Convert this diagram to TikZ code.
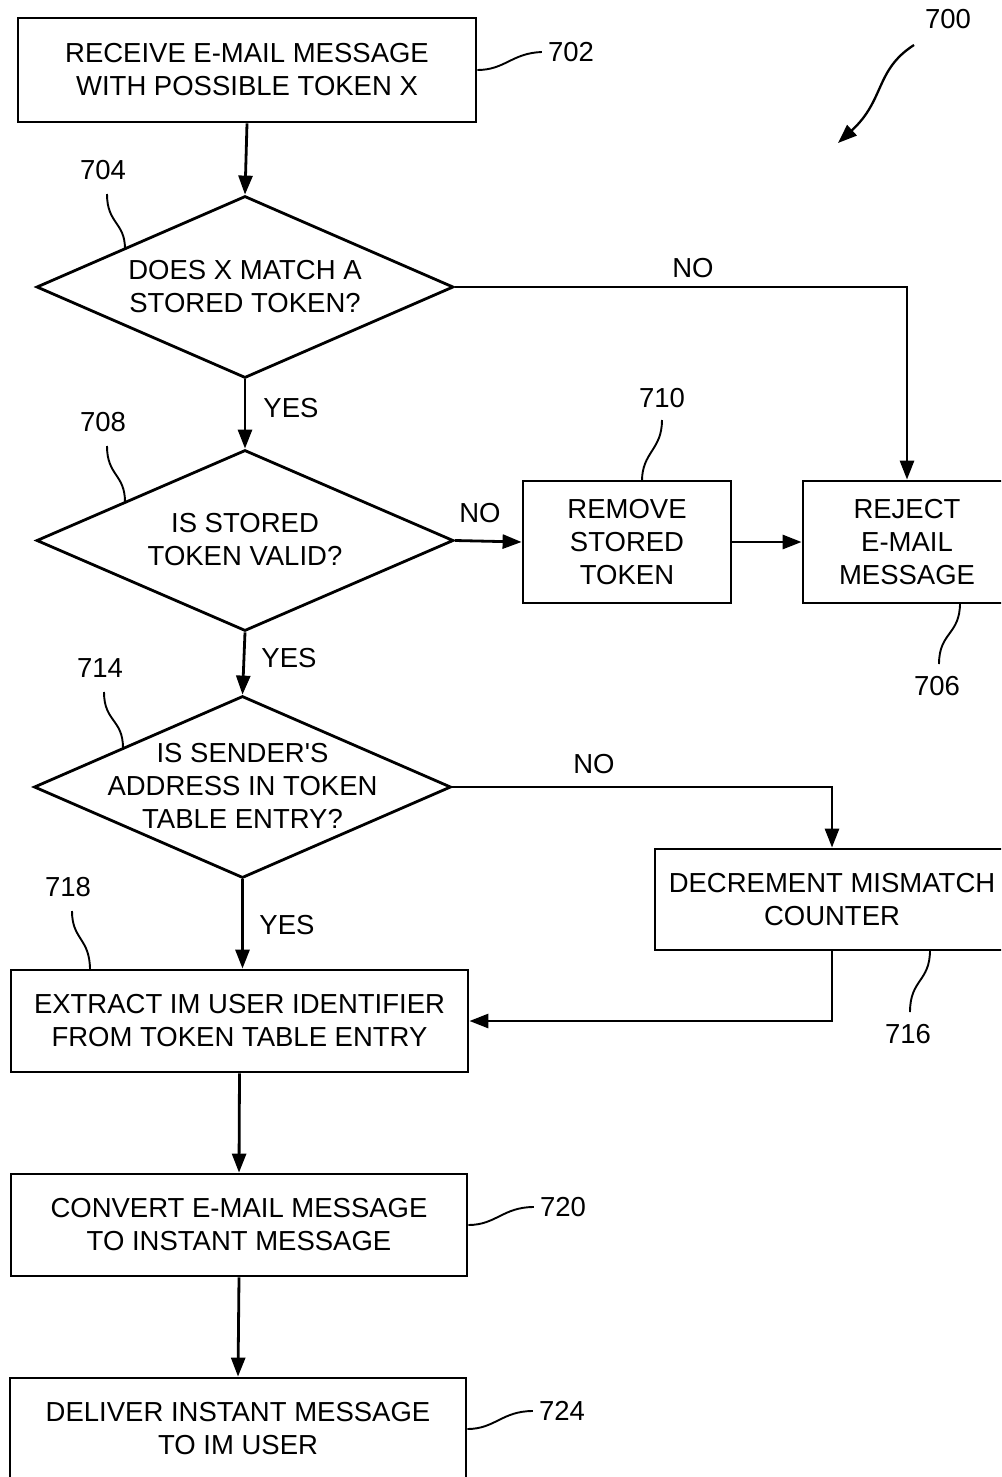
\documentclass[tikz,border=0pt]{standalone}
\usepackage{fontspec}
\setmainfont{Liberation Sans}
\usetikzlibrary{arrows.meta,shapes.geometric}
\begin{document}
\begin{tikzpicture}[x=1pt,y=-1pt,
  every node/.style={font=\fontsize{27.5}{33}\selectfont, inner sep=0pt},
  box/.style={draw, line width=2.8pt, rectangle, align=center},
  dia/.style={draw, line width=2.8pt, diamond, inner sep=0pt},
  dtext/.style={align=center},
  lbl/.style={},
  flow/.style={line width=2.8pt, -{Triangle[length=19pt,width=14pt]}},
  leader/.style={line width=1.9pt}
]
\useasboundingbox (0,0) rectangle (1001,1477);
\clip (0,0) rectangle (1001,1477);

% boxes
\node[box, minimum width=458pt, minimum height=104pt] (b702) at (247,70) {RECEIVE E-MAIL MESSAGE\\WITH POSSIBLE TOKEN X};
\node[box, minimum width=208pt, minimum height=122pt] (b710) at (627,542) {REMOVE\\STORED\\TOKEN};
\node[box, minimum width=208pt, minimum height=122pt] (b706) at (907,542) {REJECT\\E-MAIL\\MESSAGE};
\node[box, minimum width=354pt, minimum height=101pt] (b716) at (832,899.5) {DECREMENT MISMATCH\\COUNTER};
\node[box, minimum width=457pt, minimum height=102pt] (b718) at (239.5,1021) {EXTRACT IM USER IDENTIFIER\\FROM TOKEN TABLE ENTRY};
\node[box, minimum width=456pt, minimum height=102pt] (b720) at (239,1225) {CONVERT E-MAIL MESSAGE\\TO INSTANT MESSAGE};
\node[box, minimum width=456pt, minimum height=102pt] (b724) at (238,1429) {DELIVER INSTANT MESSAGE\\TO IM USER};

% diamonds
\node[dia, minimum width=417pt, minimum height=182pt] (d704) at (245,287) {};
\node[dtext] (t704) at (245,287) {DOES X MATCH A\\STORED TOKEN?};
\node[dia, minimum width=417pt, minimum height=181pt] (d708) at (245,540.5) {};
\node[dtext] (t708) at (245,540) {IS STORED\\TOKEN VALID?};
\node[dia, minimum width=417pt, minimum height=182pt] (d714) at (242.5,787) {};
\node[dtext] (t714) at (242.5,786) {IS SENDER\textquotesingle S\\ADDRESS IN TOKEN\\TABLE ENTRY?};

% connector labels
\node[lbl] (no1) at (693,268) {NO};
\node[lbl] (yes1) at (291,408) {YES};
\node[lbl] (no2) at (480,513) {NO};
\node[lbl] (yes2) at (289,658) {YES};
\node[lbl] (no3) at (594,764) {NO};
\node[lbl] (yes3) at (287,925) {YES};

% reference numerals
\node[lbl] (n700) at (948,19) {700};
\node[lbl] (n702) at (571,52) {702};
\node[lbl] (n704) at (103,170) {704};
\node[lbl] (n708) at (103,422) {708};
\node[lbl] (n710) at (662,398) {710};
\node[lbl] (n706) at (937,686) {706};
\node[lbl] (n714) at (100,668) {714};
\node[lbl] (n716) at (908,1034) {716};
\node[lbl] (n718) at (68,887) {718};
\node[lbl] (n720) at (563,1207) {720};
\node[lbl] (n724) at (562,1411) {724};

% leader end points
\coordinate (l704) at (107,194);
\coordinate (l708) at (107,446);
\coordinate (l714) at (104,692);
\coordinate (l718) at (72,911);
\coordinate (l710) at (662,420);
\coordinate (l706) at (939,664);
\coordinate (l716) at (910,1012);
\coordinate (a700s) at (914,45);
\coordinate (a700e) at (838,143);

% flow connectors
\draw[flow] (b702.south) -- (d704.north);
\draw[flow] (d704.east) -| (b706.north);
\draw[flow] (d704.south) -- (d708.north);
\draw[flow] (d708.east) -- (b710.west);
\draw[flow] (b710.east) -- (b706.west);
\draw[flow] (d708.south) -- (d714.north);
\draw[flow] (d714.east) -| (b716.north);
\draw[flow] (d714.south) -- (d714.south |- b718.north);
\draw[flow] (b716.south) |- (b718.east);
\draw[flow] (b718.south) -- (b720.north);
\draw[flow] (b720.south) -- (b724.north);

% leader lines
\draw[flow, line width=2.3pt] (a700s) .. controls (875,70) and (885,100) .. (a700e);
\draw[leader] (b702.east) .. controls (505,70) and (512,53) .. ([xshift=-6pt]n702.west);
\draw[leader] (l704) .. controls (107,224) and (125,222) .. (125,249);
\draw[leader] (l708) .. controls (107,476) and (125,474) .. (125,502);
\draw[leader] (l714) .. controls (104,722) and (123,719) .. (123,748);
\draw[leader] (l718) .. controls (72,940) and (90,938) .. (90,970);
\draw[leader] (l710) .. controls (662,450) and (642,452) .. (642,481);
\draw[leader] (960,603) .. controls (960,635) and (939,632) .. (l706);
\draw[leader] (930,950) .. controls (930,982) and (910,979) .. (l716);
\draw[leader] (b720.east) .. controls (496,1225) and (503,1207) .. ([xshift=-6pt]n720.west);
\draw[leader] (b724.east) .. controls (495,1429) and (502,1411) .. ([xshift=-6pt]n724.west);
\end{tikzpicture}
\end{document}
